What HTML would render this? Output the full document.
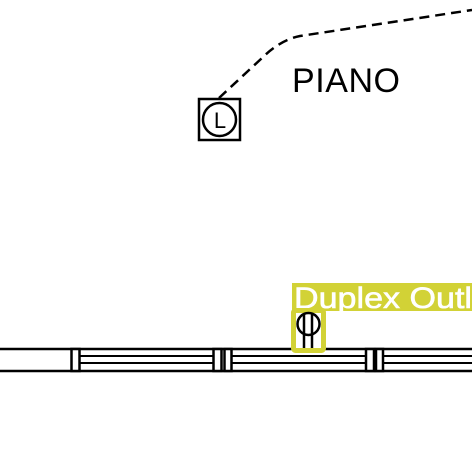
<!DOCTYPE html>
<html><head><style>
html,body{margin:0;padding:0;background:#fff;width:472px;height:463px;overflow:hidden}
</style></head><body>
<svg width="472" height="463" viewBox="0 0 472 463" xmlns="http://www.w3.org/2000/svg">
<rect width="472" height="463" fill="#fff"/>
<path d="M219 98 L262 58 Q280 40 300 36 L472 10" fill="none" stroke="#000" stroke-width="2.5" stroke-dasharray="10,6"/>
<text x="292" y="92" font-family="Liberation Sans, sans-serif" font-size="34" textLength="108" fill="#000">PIANO</text>
<g>
<rect x="199" y="99" width="41" height="41" fill="#fff" stroke="#000" stroke-width="2.5"/>
<circle cx="219.5" cy="119.5" r="16.5" fill="none" stroke="#000" stroke-width="2.5"/>
<text x="220" y="128" text-anchor="middle" font-family="Liberation Sans, sans-serif" font-size="22" fill="#000">L</text>
</g>
<g stroke="#000" fill="none">
<line x1="0" y1="349" x2="472" y2="349" stroke-width="2.5"/>
<line x1="0" y1="371" x2="472" y2="371" stroke-width="2.5"/>
<line x1="80" y1="356" x2="213" y2="356" stroke-width="2"/>
<line x1="80" y1="363" x2="213" y2="363" stroke-width="2"/>
<line x1="232" y1="356" x2="365" y2="356" stroke-width="2"/>
<line x1="232" y1="363" x2="365" y2="363" stroke-width="2"/>
<line x1="383" y1="356" x2="472" y2="356" stroke-width="2"/>
<line x1="383" y1="363" x2="472" y2="363" stroke-width="2"/>
<rect x="71.5" y="349" width="8" height="22" fill="#fff" stroke-width="2.5"/>
<rect x="213.5" y="349" width="8" height="22" fill="#fff" stroke-width="2.5"/>
<rect x="224.5" y="349" width="7" height="22" fill="#fff" stroke-width="2.5"/>
<rect x="366" y="349" width="8" height="22" fill="#fff" stroke-width="2.5"/>
<rect x="376" y="349" width="7" height="22" fill="#fff" stroke-width="2.5"/>
</g>
<g>
<rect x="292" y="283" width="180" height="28" fill="#d2d236"/>
<text x="294" y="308" font-family="Liberation Sans, sans-serif" font-size="30" textLength="178" lengthAdjust="spacingAndGlyphs" fill="#fff" stroke="#fff" stroke-width="0.6">Duplex Outl</text>
<rect x="293.5" y="310.5" width="30" height="40" rx="2" fill="#fff" stroke="#d2d236" stroke-width="5"/>
<circle cx="308.5" cy="324" r="11" fill="none" stroke="#000" stroke-width="2.5"/>
<line x1="304" y1="313" x2="304" y2="348" stroke="#000" stroke-width="2.5"/>
<line x1="312" y1="313" x2="312" y2="348" stroke="#000" stroke-width="2.5"/>
</g>
</svg>
</body></html>
